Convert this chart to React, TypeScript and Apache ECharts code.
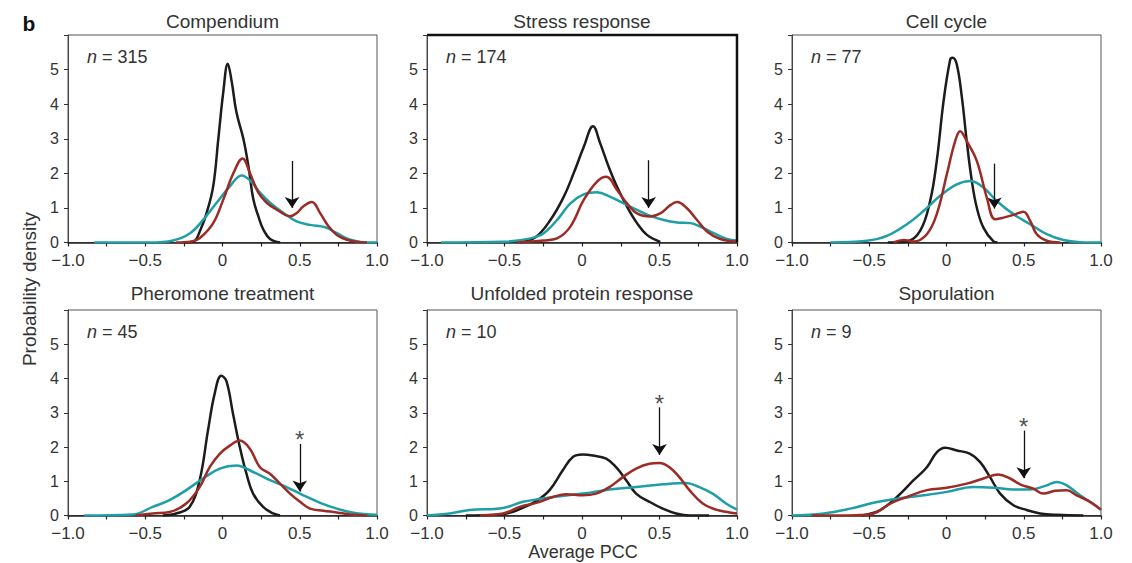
import { useEffect, useRef } from 'react';
import * as echarts from 'echarts';

const FONT = '"Liberation Sans", Arial, Helvetica, sans-serif';

const panelTitles = ['Compendium', 'Stress response', 'Cell cycle', 'Pheromone treatment', 'Unfolded protein response', 'Sporulation'];
const panelN = ['315', '174', '77', '45', '10', '9'];
const arrowX = [0.45, 0.43, 0.31, 0.5, 0.5, 0.5];
const arrowTop = [2.36, 2.38, 2.28, 2.09, 3.16, 2.48];
const arrowEnd = [1.0, 1.0, 0.98, 0.7, 1.77, 1.09];
const significant = [false, false, false, true, true, true];

const xTicks = [-1, -0.5, 0, 0.5, 1];
const xTickLabels = ['\u22121.0', '\u22120.5', '0', '0.5', '1.0'];
const yTickLabels = ['0', '1', '2', '3', '4', '5'];

const compendiumBlack = [[-0.25, 0], [-0.19, 0.02], [-0.14, 0.4], [-0.103, 0.85], [-0.06, 1.63], [-0.027, 3.0], [0.005, 4.35], [0.034, 5.17], [0.06, 4.64], [0.09, 3.77], [0.135, 3.0], [0.168, 2.2], [0.2, 1.24], [0.232, 0.76], [0.265, 0.37], [0.308, 0.1], [0.373, 0]];
const compendiumRed = [[-0.3, 0], [-0.2, 0.03], [-0.146, 0.13], [-0.06, 0.56], [0.005, 1.24], [0.07, 2.0], [0.13, 2.43], [0.178, 2.0], [0.232, 1.44], [0.286, 1.15], [0.351, 0.95], [0.438, 0.76], [0.48, 0.85], [0.524, 1.05], [0.578, 1.17], [0.632, 0.85], [0.686, 0.47], [0.74, 0.22], [0.805, 0.08], [0.87, 0.02], [0.935, 0]];
const compendiumTeal = [[-0.83, 0], [-0.47, 0], [-0.32, 0.06], [-0.21, 0.27], [-0.124, 0.66], [-0.038, 1.15], [0.049, 1.63], [0.124, 1.94], [0.189, 1.75], [0.243, 1.44], [0.308, 1.15], [0.395, 0.85], [0.48, 0.61], [0.568, 0.51], [0.665, 0.44], [0.74, 0.27], [0.827, 0.08], [0.935, 0], [1.0, 0]];

const stressBlack = [[-0.4, 0], [-0.3, 0.15], [-0.204, 0.65], [-0.118, 1.32], [-0.054, 2.0], [0.011, 2.76], [0.071, 3.36], [0.118, 2.86], [0.172, 2.19], [0.226, 1.61], [0.29, 1.04], [0.355, 0.56], [0.419, 0.22], [0.505, 0.02]];
const stressRed = [[-0.42, 0], [-0.247, 0.06], [-0.161, 0.12], [-0.075, 0.46], [0.011, 1.23], [0.097, 1.76], [0.157, 1.9], [0.226, 1.52], [0.29, 1.13], [0.355, 0.84], [0.441, 0.75], [0.505, 0.84], [0.57, 1.08], [0.613, 1.17], [0.677, 0.99], [0.742, 0.65], [0.806, 0.32], [0.892, 0.1], [1.0, 0.02]];
const stressTeal = [[-0.91, 0], [-0.505, 0.02], [-0.333, 0.12], [-0.247, 0.27], [-0.161, 0.65], [-0.075, 1.13], [0.011, 1.39], [0.097, 1.45], [0.183, 1.32], [0.269, 1.13], [0.355, 0.94], [0.441, 0.77], [0.527, 0.65], [0.613, 0.58], [0.699, 0.56], [0.763, 0.46], [0.849, 0.27], [0.935, 0.1], [1.0, 0.06]];

const cellCycleBlack = [[-0.38, 0], [-0.256, 0.03], [-0.17, 0.34], [-0.106, 1.2], [-0.063, 2.36], [-0.019, 4.09], [0.024, 5.29], [0.039, 5.34], [0.067, 5.14], [0.1, 4.18], [0.131, 2.93], [0.164, 1.78], [0.196, 1.01], [0.239, 0.43], [0.304, 0.03], [0.33, 0]];
const cellCycleRed = [[-0.343, 0], [-0.278, 0.07], [-0.213, 0.03], [-0.127, 0.24], [-0.063, 0.82], [0.002, 1.97], [0.056, 2.93], [0.088, 3.22], [0.131, 2.93], [0.196, 2.36], [0.261, 1.3], [0.315, 0.67], [0.369, 0.72], [0.433, 0.8], [0.498, 0.89], [0.541, 0.63], [0.584, 0.24], [0.649, 0.05], [0.735, 0]];
const cellCycleTeal = [[-0.752, 0], [-0.515, 0.05], [-0.386, 0.19], [-0.256, 0.53], [-0.149, 0.91], [-0.041, 1.35], [0.067, 1.68], [0.153, 1.78], [0.239, 1.59], [0.325, 1.2], [0.433, 0.82], [0.541, 0.53], [0.649, 0.24], [0.756, 0.07], [0.864, 0.01], [1.0, 0]];

const pheromoneBlack = [[-0.387, 0], [-0.3, 0.06], [-0.213, 0.25], [-0.148, 1.03], [-0.094, 2.48], [-0.051, 3.55], [-0.008, 4.08], [0.025, 3.93], [0.068, 2.97], [0.112, 2.0], [0.155, 1.22], [0.198, 0.64], [0.263, 0.25], [0.328, 0.06], [0.372, 0]];
const pheromoneRed = [[-0.56, 0], [-0.452, 0.06], [-0.343, 0.1], [-0.235, 0.35], [-0.148, 0.83], [-0.083, 1.41], [-0.018, 1.8], [0.047, 2.04], [0.112, 2.19], [0.177, 1.95], [0.242, 1.41], [0.307, 1.22], [0.372, 0.93], [0.437, 0.64], [0.502, 0.4], [0.567, 0.2], [0.653, 0.14], [0.74, 0.09], [0.827, 0.03], [0.935, 0]];
const pheromoneTeal = [[-0.896, 0], [-0.582, 0.03], [-0.452, 0.25], [-0.343, 0.45], [-0.235, 0.74], [-0.127, 1.08], [-0.018, 1.37], [0.09, 1.46], [0.198, 1.27], [0.307, 1.03], [0.415, 0.83], [0.523, 0.59], [0.632, 0.37], [0.74, 0.2], [0.848, 0.08], [1.0, 0.02]];

const unfoldedBlack = [[-0.75, 0], [-0.55, 0.02], [-0.45, 0.1], [-0.37, 0.25], [-0.295, 0.42], [-0.209, 0.74], [-0.124, 1.32], [-0.059, 1.71], [0.005, 1.78], [0.07, 1.75], [0.156, 1.66], [0.22, 1.41], [0.285, 1.03], [0.349, 0.64], [0.435, 0.4], [0.521, 0.2], [0.607, 0.06], [0.693, 0], [0.82, 0]];
const unfoldedRed = [[-0.66, 0], [-0.51, 0.06], [-0.403, 0.25], [-0.295, 0.37], [-0.188, 0.54], [-0.102, 0.62], [0.005, 0.59], [0.091, 0.64], [0.177, 0.83], [0.263, 1.12], [0.349, 1.37], [0.435, 1.51], [0.499, 1.53], [0.564, 1.41], [0.628, 1.12], [0.693, 0.74], [0.779, 0.35], [0.865, 0.17], [0.951, 0.09], [1.0, 0.06]];
const unfoldedTeal = [[-1, 0], [-0.854, 0.06], [-0.725, 0.16], [-0.51, 0.22], [-0.381, 0.4], [-0.188, 0.54], [0.005, 0.64], [0.177, 0.76], [0.349, 0.83], [0.521, 0.91], [0.671, 0.95], [0.757, 0.83], [0.843, 0.64], [0.929, 0.35], [1.0, 0.17]];

const sporulationBlack = [[-0.55, 0], [-0.429, 0.16], [-0.321, 0.54], [-0.213, 1.03], [-0.127, 1.41], [-0.062, 1.85], [-0.009, 1.98], [0.067, 1.9], [0.153, 1.8], [0.218, 1.56], [0.282, 1.12], [0.347, 0.64], [0.433, 0.3], [0.519, 0.16], [0.606, 0.06], [0.713, 0.02], [0.886, 0]];
const sporulationRed = [[-0.871, 0], [-0.58, 0.01], [-0.472, 0.06], [-0.364, 0.35], [-0.256, 0.54], [-0.127, 0.74], [0.002, 0.81], [0.131, 0.93], [0.239, 1.08], [0.336, 1.2], [0.412, 1.08], [0.476, 0.91], [0.563, 0.78], [0.627, 0.64], [0.703, 0.72], [0.778, 0.74], [0.843, 0.59], [0.929, 0.4], [1.0, 0.17]];
const sporulationTeal = [[-1, 0], [-0.795, 0.06], [-0.623, 0.2], [-0.472, 0.37], [-0.321, 0.49], [-0.149, 0.59], [0.002, 0.69], [0.175, 0.83], [0.304, 0.81], [0.433, 0.76], [0.541, 0.76], [0.649, 0.88], [0.713, 0.98], [0.778, 0.88], [0.864, 0.59], [0.929, 0.4], [1.0, 0.17]];

const blackSeries = [compendiumBlack, stressBlack, cellCycleBlack, pheromoneBlack, unfoldedBlack, sporulationBlack];
const redSeries = [compendiumRed, stressRed, cellCycleRed, pheromoneRed, unfoldedRed, sporulationRed];
const tealSeries = [compendiumTeal, stressTeal, cellCycleTeal, pheromoneTeal, unfoldedTeal, sporulationTeal];

const COLOR_BLACK = '#1c1c1c';
const COLOR_RED = '#9c2b25';
const COLOR_TEAL = '#1f9ea6';

// layout (px)
const colLeft = [68, 427, 792];
const colWidth = [309, 310, 309];
const rowTop = [35, 310];
const rowHeight = [207.5, 205.5];

function xLabel(v: number) {
  for (let i = 0; i < xTicks.length; i++) {
    if (Math.abs(v - xTicks[i]) < 1e-6) return xTickLabels[i];
  }
  return '';
}

export default function App() {
  const ref = useRef<HTMLDivElement>(null);
  useEffect(() => {
    if (!ref.current) return;
    const chart = echarts.init(ref.current, null, { renderer: 'svg' });
    const grids: any[] = [];
    const xAxes: any[] = [];
    const yAxes: any[] = [];
    const series: any[] = [];
    const graphics: any[] = [];
    for (let i = 0; i < 6; i++) {
      const c = i % 3;
      const r = Math.floor(i / 3);
      const left = colLeft[c];
      const top = rowTop[r];
      const w = colWidth[c];
      const h = rowHeight[r];
      grids.push({
        left, top, width: w, height: h,
        show: true, borderColor: '#555', borderWidth: 1, backgroundColor: 'transparent',
      });
      xAxes.push({
        type: 'value', gridIndex: i, min: -1, max: 1, interval: 0.25,
        axisLine: { show: true, onZero: false, lineStyle: { color: '#222', width: 1.5 } },
        axisTick: { show: true, length: 4, lineStyle: { color: '#222', width: 1.2 } },
        axisLabel: { formatter: xLabel, fontSize: 17, color: '#333', margin: 10, fontFamily: FONT, hideOverlap: false, lineHeight: 16 },
        splitLine: { show: false },
      });
      yAxes.push({
        type: 'value', gridIndex: i, min: 0, max: 6, interval: 1,
        axisLine: { show: true, onZero: false, lineStyle: { color: '#444', width: 1 } },
        axisTick: { show: true, length: 4, lineStyle: { color: '#333', width: 1 } },
        axisLabel: {
          formatter: (v: number) => (v <= 5 ? yTickLabels[Math.round(v)] : ''),
          fontSize: 16, color: '#333', margin: 9, fontFamily: FONT, lineHeight: 14,
        },
        splitLine: { show: false },
      });
      const common = {
        type: 'line', xAxisIndex: i, yAxisIndex: i, showSymbol: false, symbol: 'none',
        smooth: 0.4, silent: true,
      };
      series.push({ ...common, name: 'black' + i, data: blackSeries[i], lineStyle: { color: COLOR_BLACK, width: 2.5 }, z: 3 });
      series.push({ ...common, name: 'teal' + i, data: tealSeries[i], lineStyle: { color: COLOR_TEAL, width: 2.5 }, z: 4 });
      series.push({
        ...common, name: 'red' + i, data: redSeries[i], lineStyle: { color: COLOR_RED, width: 2.5 }, z: 5,
        markLine: {
          silent: true, animation: false,
          symbol: ['none', 'arrow'], symbolSize: 11,
          lineStyle: { color: '#111', width: 1.3, type: 'solid' },
          label: { show: false },
          data: [[{ coord: [arrowX[i], arrowTop[i]] }, { coord: [arrowX[i], arrowEnd[i]] }]],
        },
      });
      if (significant[i]) {
        series.push({
          type: 'scatter', xAxisIndex: i, yAxisIndex: i, symbolSize: 0, silent: true,
          data: [[arrowX[i], arrowTop[i]]],
          label: { show: true, formatter: '*', position: 'top', distance: -8, fontSize: 24, color: '#222', fontFamily: FONT },
        });
      }
      graphics.push({
        type: 'text', x: left + w / 2, y: r === 0 ? 21 : 293,
        style: { text: panelTitles[i], fontSize: 19, fontFamily: FONT, fill: '#333', textAlign: 'center', textVerticalAlign: 'middle' },
      });
      graphics.push({
        type: 'text', x: left + 19, y: top + 22,
        style: {
          text: '{i|n} = ' + panelN[i], fontSize: 18, fontFamily: FONT, fill: '#333', textVerticalAlign: 'middle',
          rich: { i: { fontStyle: 'italic', fontSize: 18, fontFamily: FONT, fill: '#333' } },
        },
      });
    }
    // heavier frame on the Stress response panel (top and right edges)
    graphics.push({
      type: 'polyline',
      shape: { points: [[colLeft[1], rowTop[0]], [colLeft[1] + colWidth[1], rowTop[0]], [colLeft[1] + colWidth[1], rowTop[0] + rowHeight[0]]] },
      style: { stroke: '#111', lineWidth: 2.5, fill: null },
      z: 10,
    });
    graphics.push({
      type: 'text', x: 29, y: 23,
      style: { text: 'b', fontSize: 21, fontWeight: 'bold', fontFamily: FONT, fill: '#111', textAlign: 'center', textVerticalAlign: 'middle' },
    });
    graphics.push({
      type: 'text', x: 29, y: 289, rotation: Math.PI / 2,
      style: { text: 'Probability density', fontSize: 19, fontFamily: FONT, fill: '#333', textAlign: 'center', textVerticalAlign: 'middle' },
    });
    graphics.push({
      type: 'text', x: 583, y: 552,
      style: { text: 'Average PCC', fontSize: 18, fontFamily: FONT, fill: '#333', textAlign: 'center', textVerticalAlign: 'middle' },
    });

    chart.setOption({
      animation: false,
      backgroundColor: '#fff',
      grid: grids,
      xAxis: xAxes,
      yAxis: yAxes,
      series,
      graphic: graphics,
    });
    return () => chart.dispose();
  }, []);
  return <div ref={ref} style={{ position: 'fixed', left: 0, top: 0, width: 1132, height: 563 }} />;
}
